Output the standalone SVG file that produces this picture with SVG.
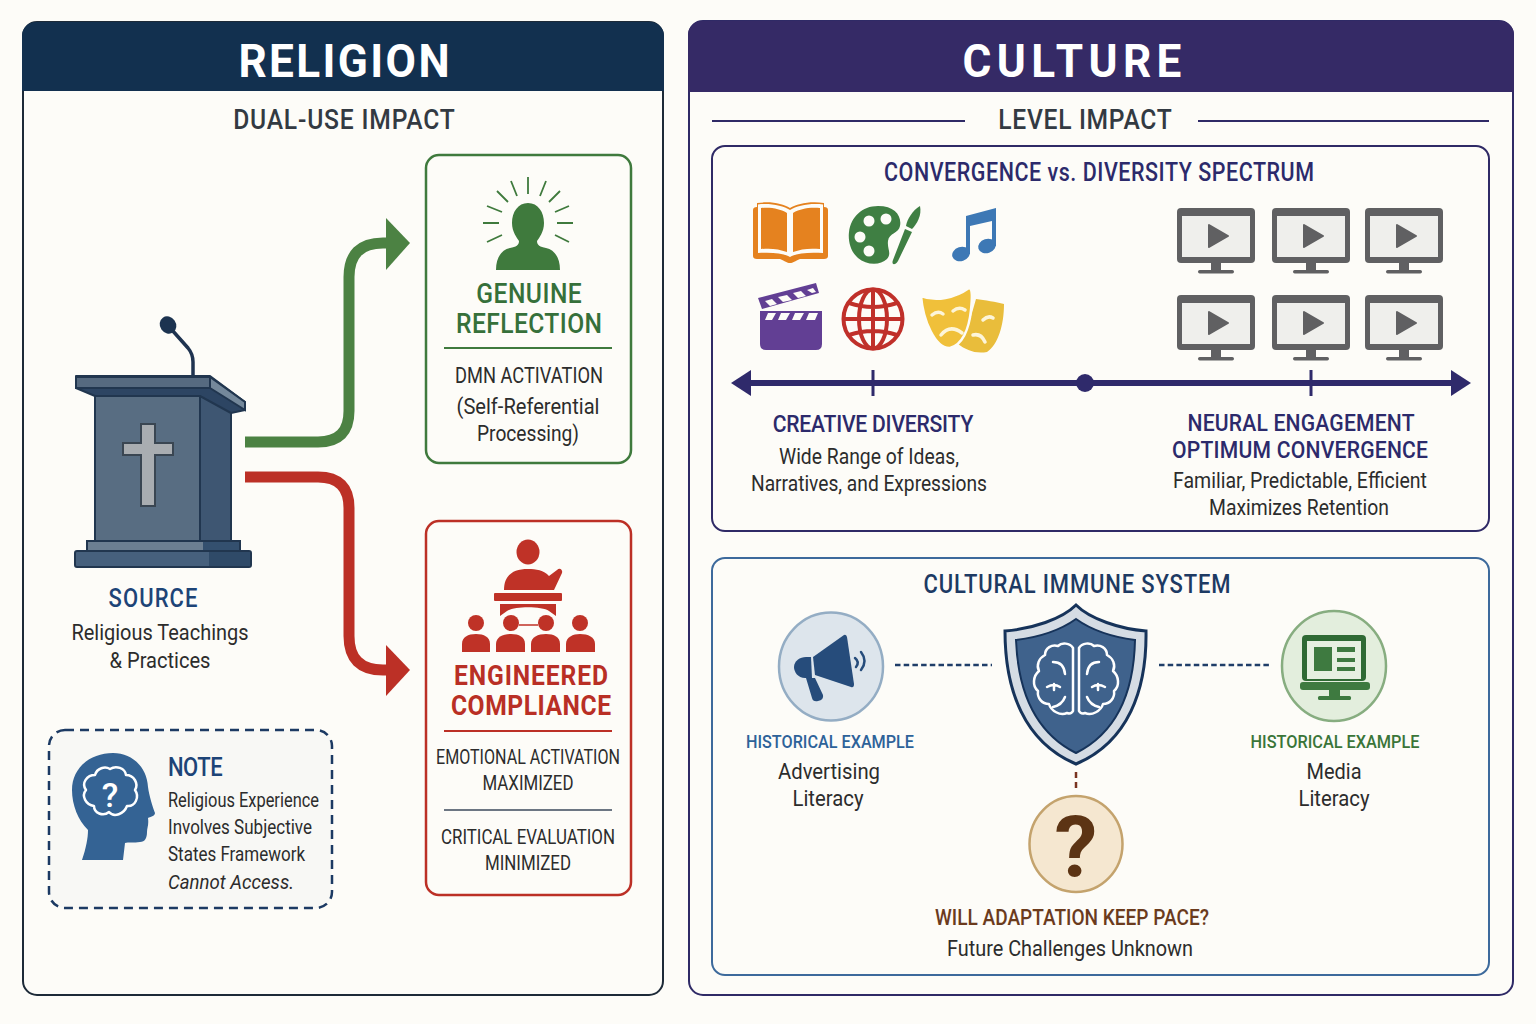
<svg xmlns="http://www.w3.org/2000/svg" width="1536" height="1024" viewBox="0 0 1536 1024">
<style>
text{font-family:Roboto,"Liberation Sans",sans-serif;text-anchor:middle}
.h{font-weight:700}
.m{font-weight:500}
.b{fill:#2c2c2c;font-size:22px}
.s{fill:#2c2c2c;font-size:20px}
.l{text-anchor:start}
.panel{fill:#fdfcf8;stroke:#1d2a38;stroke-width:2}
.wl{fill:none;stroke:#fff;stroke-width:2.5;stroke-linecap:round;stroke-linejoin:round}
</style>
<defs>
<g id="mon">
<rect x="-39" y="0" width="78" height="55" rx="4" fill="#606062"/>
<rect x="-34" y="8" width="68" height="41" fill="#efefec"/>
<path d="M-7 17 L12 28 L-7 39Z" fill="#606062" stroke="#606062" stroke-width="2" stroke-linejoin="round"/>
<rect x="-5" y="55" width="10" height="9" fill="#606062"/>
<rect x="-18" y="62" width="36" height="3.5" rx="1.7" fill="#606062"/>
</g>
<g id="lobe">
<path d="M1073 648C1070 643 1062 642 1058 646C1052 644 1045 648 1045 655C1039 658 1036 665 1039 671C1033 676 1032 686 1038 691C1037 698 1042 704 1049 704C1051 711 1060 716 1067 713C1070 714 1072 713 1073 711Z"/>
<path d="M1053 662Q1064 662 1065 674M1047 687Q1054 683 1060 687M1054 684V690M1053 707Q1062 705 1065 697"/>
</g>
</defs>
<rect width="1536" height="1024" fill="#fdfcf8"/>

<g id="religion-panel">
<rect class="panel" x="23" y="22" width="640" height="973" rx="14"/>
<path d="M22 91V36a14 14 0 0 1 14-14H650a14 14 0 0 1 14 14V91Z" fill="#12304f"/>
<text class="h" transform="translate(344 77) scale(.96 1)" font-size="46" fill="#fff" textLength="220" lengthAdjust="spacing">RELIGION</text>
<text class="m" transform="translate(344 129) scale(.88 1)" font-size="28" fill="#333a42" textLength="252" lengthAdjust="spacing">DUAL-USE IMPACT</text>
</g>

<g id="culture-panel">
<rect class="panel" x="689" y="21" width="824" height="974" rx="14" style="stroke:#2f2a66"/>
<path d="M688 92V35a14 14 0 0 1 14-14H1500a14 14 0 0 1 14 14V92Z" fill="#352a66"/>
<text class="h" transform="translate(1072 77) scale(.96 1)" font-size="46" fill="#fff" textLength="228" lengthAdjust="spacing">CULTURE</text>
<text class="m" transform="translate(1085 129) scale(.88 1)" font-size="28" fill="#333a42" textLength="197" lengthAdjust="spacing">LEVEL IMPACT</text>
<path d="M712 121H965M1198 121H1489" stroke="#2f2a66" stroke-width="2"/>
</g>

<g id="source">
<path d="M172 330L188 348Q193 354 193 362V377" fill="none" stroke="#1f3350" stroke-width="3.5"/>
<ellipse cx="168" cy="325" rx="8" ry="9" fill="#1c3350" transform="rotate(-35 168 325)"/>
<rect x="95" y="392" width="106" height="150" fill="#586d82" stroke="#21364f" stroke-width="2"/>
<path d="M200 392H231V542H200Z" fill="#3e5672" stroke="#21364f" stroke-width="2"/>
<path d="M76 376H210L245 402V410L231 413L200 396H95L76 388Z" fill="#2d4563" stroke="#21364f" stroke-width="2" stroke-linejoin="round"/>
<path d="M76 377H210V388H76Z" fill="#566a80" stroke="#21364f" stroke-width="2"/>
<path d="M210 377L245 402V410L210 388Z" fill="#74889b" stroke="#21364f" stroke-width="2"/>
<rect x="87" y="541" width="153" height="10" fill="#6c7f92" stroke="#21364f" stroke-width="2"/>
<rect x="203" y="542" width="36" height="9" fill="#34506f"/>
<rect x="75" y="551" width="176" height="16" rx="2" fill="#46607d" stroke="#21364f" stroke-width="2"/>
<rect x="209" y="552" width="41" height="14" fill="#2f4a68"/>
<path d="M141 424H155V443H173V455H155V506H141V455H123V443H141Z" fill="#a9adb1" stroke="#3a4652" stroke-width="2"/>
<text class="m" transform="translate(153 607) scale(.88 1)" font-size="25" fill="#1d4477" textLength="101" lengthAdjust="spacing">SOURCE</text>
<text class="b" x="160" y="640" textLength="177" lengthAdjust="spacingAndGlyphs">Religious Teachings</text>
<text class="b" x="160" y="668" textLength="101" lengthAdjust="spacingAndGlyphs">&amp; Practices</text>
</g>

<g id="genuine-reflection">
<rect x="426" y="155" width="205" height="308" rx="13" fill="#fdfcf8" stroke="#3f7a3d" stroke-width="2.5"/>
<path d="M528 177V194M511 181L517 196M546 181L540 196M497 191L508 202M560 191L549 202M487 206L502 212M569 206L555 212M483 223H499M573 223H557M487 242L502 235M569 242L555 235" stroke="#3f7a3d" stroke-width="1.8" fill="none"/>
<path d="M528 203C538 203 544 212 544 223C544 232 539 238 537 241C537 245 540 247 546 248C555 250 560 258 560 270H496C496 258 501 250 510 248C516 247 519 245 519 241C517 238 512 232 512 223C512 212 518 203 528 203Z" fill="#3f7a3d"/>
<text class="m" transform="translate(529 303) scale(.88 1)" font-size="28" fill="#36703a" textLength="120" lengthAdjust="spacing">GENUINE</text>
<text class="m" transform="translate(529 333) scale(.88 1)" font-size="28" fill="#36703a" textLength="166" lengthAdjust="spacing">REFLECTION</text>
<path d="M444 348H612" stroke="#3f7a3d" stroke-width="2"/>
<text class="b" x="529" y="383" textLength="148" lengthAdjust="spacingAndGlyphs">DMN ACTIVATION</text>
<text class="b" x="528" y="414" textLength="143" lengthAdjust="spacingAndGlyphs">(Self-Referential</text>
<text class="b" x="528" y="441" textLength="102" lengthAdjust="spacingAndGlyphs">Processing)</text>
</g>

<g id="engineered-compliance">
<rect x="426" y="521" width="205" height="374" rx="13" fill="#fdfcf8" stroke="#bc3026" stroke-width="2.5"/>
<g fill="#bf3227">
<ellipse cx="528" cy="552" rx="11.5" ry="12.5"/>
<path d="M504 590C504 576 512 569 528 569C536 569 544 570 549 576L557 570C560 567 563 570 562 573L554 590Z"/>
<rect x="494" y="593" width="68" height="8" rx="1"/>
<path d="M500 604H556V616L549 611C542 606 514 606 507 611L500 616Z"/>
<circle cx="476" cy="623" r="8"/><circle cx="511" cy="623" r="8"/><circle cx="546" cy="623" r="8"/><circle cx="580" cy="623" r="8"/>
<path d="M462 652V644C462 637 468 634 476 634C484 634 490 637 490 644V652Z"/>
<path d="M496 652V644C496 637 503 634 511 634C519 634 525 637 525 644V652Z"/>
<path d="M531 652V644C531 637 538 634 546 634C554 634 560 637 560 644V652Z"/>
<path d="M566 652V644C566 637 573 634 580 634C588 634 595 637 595 644V652Z"/>
</g>
<path d="M519 625H538" stroke="#bf3227" stroke-width="1.5"/>
<text class="h" transform="translate(531 685) scale(.88 1)" font-size="28" fill="#b92f25" textLength="175" lengthAdjust="spacing">ENGINEERED</text>
<text class="h" transform="translate(531 715) scale(.88 1)" font-size="28" fill="#b92f25" textLength="182" lengthAdjust="spacing">COMPLIANCE</text>
<path d="M444 731H612" stroke="#bc3026" stroke-width="2"/>
<text class="s" x="528" y="764" textLength="184" lengthAdjust="spacingAndGlyphs">EMOTIONAL ACTIVATION</text>
<text class="s" x="528" y="790" textLength="91" lengthAdjust="spacingAndGlyphs">MAXIMIZED</text>
<path d="M444 810H612" stroke="#3b4a5c" stroke-width="1.5"/>
<text class="s" x="528" y="844" textLength="174" lengthAdjust="spacingAndGlyphs">CRITICAL EVALUATION</text>
<text class="s" x="528" y="870" textLength="86" lengthAdjust="spacingAndGlyphs">MINIMIZED</text>
</g>

<g id="note">
<rect x="49" y="730" width="283" height="178" rx="16" fill="#f8f8f5" stroke="#1c3a63" stroke-width="2.5" stroke-dasharray="9 6"/>
<path d="M82 860C86 848 88 838 88 830C78 820 72 805 72 790C72 768 90 753 113 753C133 753 147 768 148 787C149 795 153 808 155 813C155 816 150 817 148 818C149 825 147 828 147 832C147 838 145 842 140 842C134 843 128 842 125 843L123 860Z" fill="#346394"/>
<path class="wl" d="M95 775C97 768 105 766 110 769C116 765 125 768 126 775C134 775 139 784 135 790C140 797 135 807 127 806C124 814 114 818 109 812C103 817 94 813 94 806C86 805 81 796 86 790C81 783 87 775 95 775Z"/>
<text class="m" x="110" y="807" font-size="34" fill="#fff">?</text>
<text class="m l" transform="translate(168 776) scale(.88 1)" font-size="25" fill="#1d4477" textLength="62" lengthAdjust="spacing">NOTE</text>
<text class="s l" x="168" y="807" textLength="151" lengthAdjust="spacingAndGlyphs">Religious Experience</text>
<text class="s l" x="168" y="834" textLength="144" lengthAdjust="spacingAndGlyphs">Involves Subjective</text>
<text class="s l" x="168" y="861" textLength="137" lengthAdjust="spacingAndGlyphs">States Framework</text>
<text class="s l" x="168" y="889" font-style="italic" textLength="126" lengthAdjust="spacingAndGlyphs">Cannot Access.</text>
</g>

<g id="spectrum">
<rect x="712" y="146" width="777" height="385" rx="13" fill="#fdfcf8" stroke="#2f2a66" stroke-width="2"/>
<text class="m" transform="translate(1099 181) scale(.86 1)" font-size="25" fill="#2c2a6b" textLength="500" lengthAdjust="spacing">CONVERGENCE vs. DIVERSITY SPECTRUM</text>
<g id="book">
<path d="M753 210Q753 207 757 207V203C772 201 783 204 790 208C797 204 809 201 824 203V207Q828 207 828 210V256Q828 259 824 259H800C795 261 793 263 790 263C787 263 785 261 780 259H757Q753 259 753 256Z" fill="#e5821f"/>
<path d="M758 204.500C771 203 783 206 790 210C797 206 809 203 823 204.500V253C809 252 797 253 790 257C783 253 771 252 758 253Z" fill="#fdfcf8"/>
<path d="M761 208C771 207 781 209 787 213V252C779 249 771 248 761 249ZM793 213C799 209 809 207 820 208V249C809 248 801 249 793 252Z" fill="#e5821f"/>
</g>
<g id="palette">
<path d="M878 206C895 206 902 216 900 226C899 233 889 233 888 241C887 249 892 253 887 259C880 266 866 265 858 258C850 251 848 240 849 232C851 217 862 206 878 206Z" fill="#3f7f43"/>
<circle cx="869" cy="221" r="5.500" fill="#fdfcf8"/><circle cx="886" cy="219" r="5.500" fill="#fdfcf8"/><circle cx="860" cy="237" r="5.500" fill="#fdfcf8"/><circle cx="869" cy="251" r="5.500" fill="#fdfcf8"/>
<path d="M920 206C922 215 917 224 912 229L906 226C907 219 913 210 920 206Z" fill="#3f7f43"/>
<path d="M905 229L912 232L898 261C895 266 891 265 893 260Z" fill="#3f7f43"/>
</g>
<g id="note-music" fill="#3d78b5">
<ellipse cx="961" cy="254" rx="9" ry="7" transform="rotate(-18 961 254)"/>
<ellipse cx="987" cy="246" rx="9" ry="7" transform="rotate(-18 987 246)"/>
<path d="M966 254V216L996 208V246H992V221L970 226V254Z"/>
</g>
<g id="clapper" fill="#623f94">
<path d="M760 311H822V344Q822 350 816 350H766Q760 350 760 344Z"/>
<path d="M758 298L816 283L819 293L762 309Z"/>
<g fill="#fdfcf8">
<path d="M768 313H776L772 320H765ZM781 313H790L786 320H778ZM795 313H804L800 320H792ZM809 313H818L815 320H806Z"/>
<path d="M765 301L772 299L777 304L770 306ZM778 297L787 295L792 300L783 302ZM793 293L801 291L806 296L798 298ZM807 290L813 288L816 292L812 293Z"/>
</g>
</g>
<g id="globe" fill="none" stroke="#c0302a" stroke-width="4">
<circle cx="873" cy="319" r="29.500"/>
<ellipse cx="873" cy="319" rx="14" ry="29.500"/>
<path d="M873 289V349M843 319H903M849 303Q873 311 897 303M849 335Q873 327 897 335"/>
</g>
<g id="masks">
<path d="M976 299C985 300 996 302 1004 304C1004 325 998 345 987 352C975 354 966 350 958 344L970 320Z" fill="#e9bd3b"/>
<path d="M921 296C936 302 955 298 969 288C973 288 972 300 971 310C969 330 962 345 950 348C935 349 923 320 921 296Z" fill="#f0c03a" stroke="#fdfcf8" stroke-width="2.500"/>
<path d="M932 315Q938 310 943 314M953 311Q959 306 965 310M941 335Q950 324 962 333M983 320Q988 315 993 318M973 335Q981 333 985 342" fill="none" stroke="#fdf5d9" stroke-width="3.500" stroke-linecap="round"/>
</g>
<use href="#mon" x="1216" y="208"/><use href="#mon" x="1311" y="208"/><use href="#mon" x="1404" y="208"/>
<use href="#mon" x="1216" y="295"/><use href="#mon" x="1311" y="295"/><use href="#mon" x="1404" y="295"/>
<g id="axis" fill="#2f2a6b">
<path d="M750 383H1452" stroke="#2f2a6b" stroke-width="6"/>
<path d="M731 383L751 370V396Z"/><path d="M1471 383L1451 370V396Z"/>
<path d="M873 370V396M1311 370V396" stroke="#2f2a6b" stroke-width="3"/>
<circle cx="1085" cy="383" r="9"/>
</g>
<text class="m" transform="translate(873 432) scale(.88 1)" font-size="24" fill="#2c2a6b" textLength="228" lengthAdjust="spacing">CREATIVE DIVERSITY</text>
<text class="b" x="869" y="464" textLength="180" lengthAdjust="spacingAndGlyphs">Wide Range of Ideas,</text>
<text class="b" x="869" y="491" textLength="236" lengthAdjust="spacingAndGlyphs">Narratives, and Expressions</text>
<text class="m" transform="translate(1301 431) scale(.88 1)" font-size="24" fill="#2c2a6b" textLength="258" lengthAdjust="spacing">NEURAL ENGAGEMENT</text>
<text class="m" transform="translate(1300 458) scale(.88 1)" font-size="24" fill="#2c2a6b" textLength="291" lengthAdjust="spacing">OPTIMUM CONVERGENCE</text>
<text class="b" x="1300" y="488" textLength="254" lengthAdjust="spacingAndGlyphs">Familiar, Predictable, Efficient</text>
<text class="b" x="1299" y="515" textLength="180" lengthAdjust="spacingAndGlyphs">Maximizes Retention</text>
</g>

<g id="immune-system">
<rect x="712" y="558" width="777" height="417" rx="13" fill="#fdfcf8" stroke="#3d6a9c" stroke-width="2"/>
<text class="m" transform="translate(1077 593) scale(.88 1)" font-size="25" fill="#1d3a63" textLength="349" lengthAdjust="spacing">CULTURAL IMMUNE SYSTEM</text>
</g>

<g id="connectors" fill="none">
<path d="M245 442H318Q349 442 349 411V277Q349 243 383 243H390" stroke="#4c8243" stroke-width="11"/>
<path d="M386 218L410 243L386 270Z" fill="#4c8243"/>
<path d="M245 477H318Q349 477 349 508V636Q349 670 383 670H390" stroke="#bc3026" stroke-width="11"/>
<path d="M386 645L410 670L386 696Z" fill="#bc3026"/>
<path d="M895 665H992M1159 665H1270" stroke="#1f3d68" stroke-width="2.500" stroke-dasharray="5.500 3.200"/>
<path d="M1076 772V790" stroke="#7a3420" stroke-width="2.500" stroke-dasharray="6 4"/>
</g>

<g id="advertising">
<ellipse cx="831" cy="666.500" rx="52" ry="54" fill="#dde5ec" stroke="#94adc4" stroke-width="2.500"/>
<path d="M813 657L844 635Q846 634 847 637L854 684Q854 688 851 687L815 675Z" fill="#264c7b"/>
<path d="M811 657L812 678H805C798 678 794 672 794 667C794 661 800 657 806 657Z" fill="#264c7b"/>
<path d="M806 678H815L823 695Q824 700 818 701Q813 702 812 698Z" fill="#264c7b"/>
<path d="M855 658Q860 662 856 667M861 652Q868 661 861 670" fill="none" stroke="#264c7b" stroke-width="2.500" stroke-linecap="round"/>
<text class="m" x="830" y="748" font-size="19" fill="#2d6299" textLength="168" lengthAdjust="spacingAndGlyphs">HISTORICAL EXAMPLE</text>
<text class="b" x="829" y="779" textLength="102" lengthAdjust="spacingAndGlyphs">Advertising</text>
<text class="b" x="828" y="806" textLength="71" lengthAdjust="spacingAndGlyphs">Literacy</text>
</g>

<g id="shield">
<path d="M1076 605C1090 619 1120 629 1146 631C1147 690 1128 742 1076 764C1024 742 1005 690 1005 631C1032 629 1062 619 1076 605Z" fill="#d5dce4" stroke="#16335a" stroke-width="3"/>
<path d="M1076 619C1090 629 1112 637 1135 640C1134 690 1118 732 1076 753C1034 732 1018 690 1016 640C1040 637 1062 629 1076 619Z" fill="#3f628c" stroke="#16335a" stroke-width="2"/>
<g class="wl"><use href="#lobe"/><use href="#lobe" transform="translate(2152 0) scale(-1 1)"/></g>
</g>

<g id="media">
<ellipse cx="1334" cy="666" rx="52" ry="55" fill="#e3eedd" stroke="#87ad80" stroke-width="2.500"/>
<rect x="1302" y="635" width="64" height="46" rx="4" fill="#2f6a34"/>
<rect x="1307" y="641" width="54" height="38" fill="#e6f0e1"/>
<rect x="1314" y="647" width="18" height="24" fill="#3e7a40"/>
<path d="M1337 647H1355V652H1337ZM1337 658H1355V662H1337ZM1337 667H1355V671H1337Z" fill="#3e7a40"/>
<rect x="1300" y="682" width="70" height="8" rx="3" fill="#3e7a40"/>
<rect x="1329" y="690" width="11" height="8" fill="#3e7a40"/>
<rect x="1318" y="696" width="33" height="4" rx="1.500" fill="#3e7a40"/>
<text class="m" x="1335" y="748" font-size="19" fill="#3a7538" textLength="169" lengthAdjust="spacingAndGlyphs">HISTORICAL EXAMPLE</text>
<text class="b" x="1334" y="779" textLength="55" lengthAdjust="spacingAndGlyphs">Media</text>
<text class="b" x="1334" y="806" textLength="71" lengthAdjust="spacingAndGlyphs">Literacy</text>
</g>

<g id="adaptation">
<ellipse cx="1076" cy="844" rx="46.500" ry="48" fill="#f5e7d0" stroke="#c4a36d" stroke-width="2.500"/>
<text class="h" x="1076" y="877" font-size="86" fill="#5c3414">?</text>
<text class="m" x="1072" y="925" font-size="22" fill="#6b3b1d" textLength="274" lengthAdjust="spacingAndGlyphs">WILL ADAPTATION KEEP PACE?</text>
<text class="b" x="1070" y="956" textLength="246" lengthAdjust="spacingAndGlyphs">Future Challenges Unknown</text>
</g>
</svg>
